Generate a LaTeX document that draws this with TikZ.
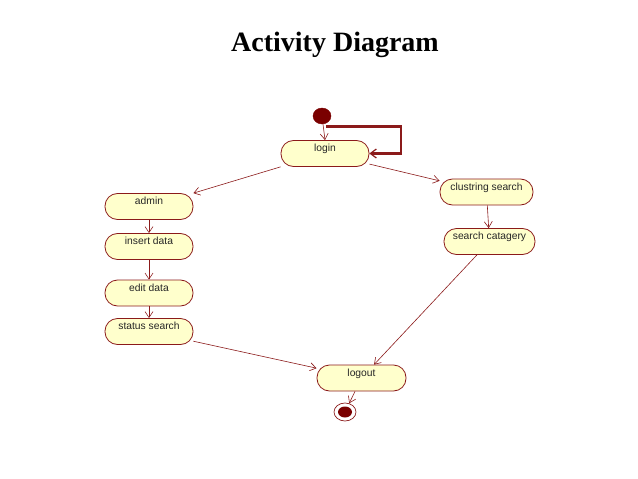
\documentclass[tikz,border=0pt]{standalone}
\usepackage{fontspec}
\setmainfont{Liberation Serif}
\setsansfont{Liberation Sans}
\usetikzlibrary{arrows.meta,shapes.geometric}
\definecolor{maroonline}{HTML}{8B1A1A}
\definecolor{nodefill}{HTML}{FFFFCC}
\definecolor{dotfill}{HTML}{7A0000}
\tikzset{
  act/.style={draw=maroonline, fill=nodefill, line width=0.8pt, rectangle,
    rounded corners=12.5pt, minimum width=88pt, minimum height=26pt,
    inner sep=2pt, text height=9pt, text depth=13pt,
    font=\sffamily\fontsize{10.3}{11}\selectfont, text=black!85},
  flow/.style={draw=maroonline, line width=0.6pt, -{Straight Barb[length=6pt,width=8pt]}},
  loopflow/.style={draw=maroonline, line width=2.2pt, -{Straight Barb[length=6pt,width=9pt,line width=1.2pt]}}
}
\begin{document}
\begin{tikzpicture}[x=1pt,y=-1pt]
\useasboundingbox (0,0) rectangle (638,479);
\node[font=\bfseries\fontsize{28}{32}\selectfont] (title) at (335,45) {Activity Diagram};

\node[ellipse, fill=dotfill, draw=dotfill, minimum width=18pt, minimum height=16pt, inner sep=0pt] (init) at (322,116) {};
\node[act] (login) at (325,153.5) {login};
\node[act] (admin) at (149,206.5) {admin};
\node[act] (insert) at (149,246.5) {insert data};
\node[act] (edit) at (149,293) {edit data};
\node[act] (status) at (149,331.5) {status search};
\node[act, minimum width=93pt] (clust) at (486.5,192) {clustring search};
\node[act, minimum width=91pt] (cat) at (489.5,241.5) {search catagery};
\node[act, minimum width=89pt] (logout) at (361.5,378) {logout};
\node[ellipse, draw=maroonline, fill=white, line width=0.7pt, minimum width=22pt, minimum height=18pt, inner sep=0pt] (final) at (345,412) {};
\node[ellipse, fill=dotfill, minimum width=14pt, minimum height=11pt, inner sep=0pt] (finaldot) at (final.center) {};

\coordinate (lp) at (326,126.5);
\draw[loopflow] (lp) -- (401,126.5) |- (login.east);
\draw[flow] (init) -- (login.north -| 325,0);
\draw[flow] (login) -- (admin);
\draw[flow] (login) -- (clust);
\draw[flow] (admin) -- (insert);
\draw[flow] (insert) -- (edit);
\draw[flow] (edit) -- (status);
\draw[flow] (clust) -- (cat);
\draw[flow] (cat) -- (logout);
\draw[flow] (status) -- (logout);
\draw[flow] (logout) -- (final);
\end{tikzpicture}
\end{document}
